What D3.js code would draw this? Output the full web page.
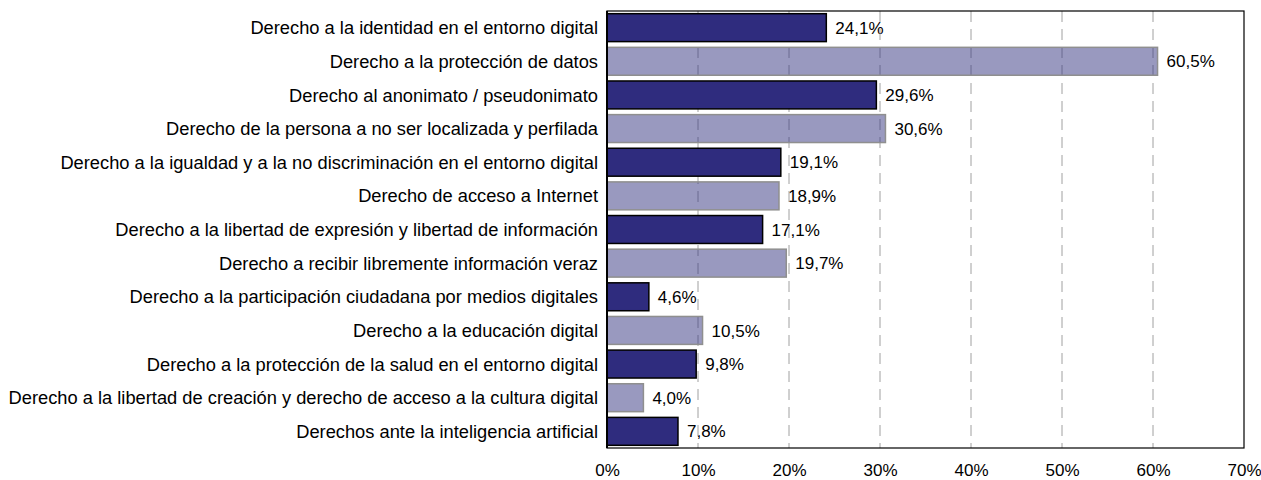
<!DOCTYPE html>
<html>
<head>
<meta charset="utf-8">
<script src="https://cdn.jsdelivr.net/npm/d3@7/dist/d3.min.js"></script>
<style>
  body { margin: 0; background: #fff; }
  svg text { font-family: "Liberation Sans", Arial, sans-serif; fill: #000; }
</style>
</head>
<body>
<svg id="chart" width="1261" height="480"></svg>
<script>
const categories = [
  'Derecho a la identidad en el entorno digital',
  'Derecho a la protección de datos',
  'Derecho al anonimato / pseudonimato',
  'Derecho de la persona a no ser localizada y perfilada',
  'Derecho a la igualdad y a la no discriminación en el entorno digital',
  'Derecho de acceso a Internet',
  'Derecho a la libertad de expresión y libertad de información',
  'Derecho a recibir libremente información veraz',
  'Derecho a la participación ciudadana por medios digitales',
  'Derecho a la educación digital',
  'Derecho a la protección de la salud en el entorno digital',
  'Derecho a la libertad de creación y derecho de acceso a la cultura digital',
  'Derechos ante la inteligencia artificial'
]
const values = [24.1, 60.5, 29.6, 30.6, 19.1, 18.9, 17.1, 19.7, 4.6, 10.5, 9.8, 4.0, 7.8]
const xTicks = [0, 10, 20, 30, 40, 50, 60, 70]

const margin = { left: 607, right: 17, top: 11, bottom: 32 }
const size = { width: 1261, height: 480 }
const fmt = d => d.toFixed(1).replace('.', ',') + '%'

const svg = d3.select('#chart')

const x = d3.scaleLinear()
  .domain([0, 70])
  .range([margin.left, size.width - margin.right])

const y = d3.scaleBand()
  .domain(categories)
  .range([margin.top, size.height - margin.bottom])
  .paddingInner(0.17)
  .paddingOuter(0.08)

const rows = categories.map((c, i) => ({ cat: c, val: values[i], dark: i % 2 === 0 }))

// value labels (gridlines are drawn over them, as in the original)
svg.append('g').selectAll('text')
  .data(rows)
  .enter()
  .append('text')
  .attr('x', d => x(d.val) + 9)
  .attr('y', d => y(d.cat) + y.bandwidth() / 2)
  .attr('dy', '0.36em')
  .style('font-size', '17px')
  .text(d => fmt(d.val))

// dashed gridlines
svg.append('g').selectAll('line')
  .data(xTicks.slice(1, -1))
  .enter()
  .append('line')
  .attr('x1', d => x(d)).attr('x2', d => x(d))
  .attr('y1', margin.top).attr('y2', size.height - margin.bottom)
  .attr('stroke', '#a0a0a0')
  .attr('stroke-width', 1)
  .attr('stroke-dasharray', '11,7')

// bars
svg.append('g').selectAll('rect')
  .data(rows)
  .enter()
  .append('rect')
  .attr('x', x(0))
  .attr('y', d => y(d.cat))
  .attr('width', d => x(d.val) - x(0))
  .attr('height', y.bandwidth())
  .attr('fill', d => d.dark ? '#2f2c7e' : '#333380')
  .attr('fill-opacity', d => d.dark ? 1 : 0.5)
  .attr('stroke', d => d.dark ? '#000' : '#8f8f8f')
  .attr('stroke-width', 1.5)

// plot frame
svg.append('rect')
  .attr('x', x(0)).attr('y', margin.top)
  .attr('width', x(70) - x(0))
  .attr('height', size.height - margin.bottom - margin.top)
  .attr('fill', 'none')
  .attr('stroke', '#000')
  .attr('stroke-width', 1.2)

svg.append('line')
  .attr('x1', x(0)).attr('x2', x(0))
  .attr('y1', margin.top).attr('y2', size.height - margin.bottom)
  .attr('stroke', '#000').attr('stroke-width', 2)

// category labels
svg.append('g').selectAll('text')
  .data(rows)
  .enter()
  .append('text')
  .attr('x', x(0) - 9)
  .attr('y', d => y(d.cat) + y.bandwidth() / 2)
  .attr('dy', '0.36em')
  .attr('text-anchor', 'end')
  .style('font-size', '18.3px')
  .text(d => d.cat)

// x axis labels
const xAxis = d3.axisBottom(x).tickValues(xTicks).tickFormat(d => d + '%').tickSize(0).tickPadding(16)
const gx = svg.append('g')
  .attr('transform', `translate(0, ${size.height - margin.bottom})`)
  .call(xAxis)
gx.select('.domain').remove()
gx.selectAll('text').style('font-size', '17px').attr('fill', '#000')
</script>
</body>
</html>
